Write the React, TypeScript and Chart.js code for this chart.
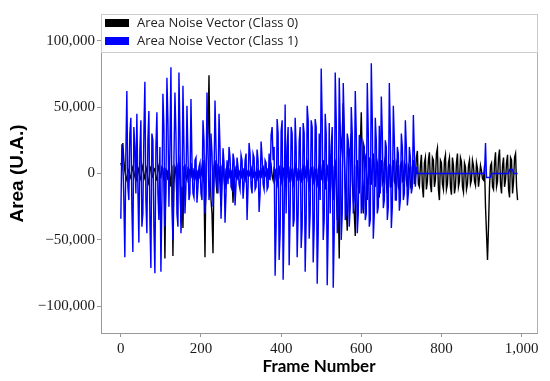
import React, { useEffect, useRef } from 'react';
import { Chart, registerables } from 'chart.js';

Chart.register(...registerables);

// Samples are stored every 5 frames, with a second set at the half-way frames (2.5, 7.5, ...)
const FRAME_STEP = 5;

// Area noise vector, class 0 (black), frames 0, 5, ..., 990
const CLASS0_VALUES = [
  8000, 23000, 2000, -5000, 3000, -2000, 5000, 0, -6000, 4000,
  -3000, 6000, -4000, 2000, -8000, 5000, -2000, 3000, -5000, 6000,
  -3000, 4000, -64000, 2000, 8000, -10000, -62000, 5000, -20000, 10000,
  -37000, -41000, 6000, -5000, 3000, 8000, -4000, 2000, -6000, 3000,
  -2000, 10000, -63000, 20000, 74000, -20000, -60000, 10000, -15000, 5000,
  -25000, 8000, -12000, 5000, -3000, 2000, -22000, 4000, -4000, 2000,
  -3000, 3000, -5000, 2000, -2000, 4000, -3000, 1000, -4000, 2000,
  -3000, 5000, -2000, 3000, -4000, 6000, -5000, 3000, -8000, 5000,
  -6000, 4000, -10000, 7000, -5000, 3000, -8000, 6000, -4000, 2000,
  -6000, 5000, -3000, 8000, -10000, 4000, -6000, 3000, -8000, 6000,
  -4000, 10000, -12000, 5000, -8000, 15000, -20000, 8000, -35000, -64000,
  20000, 53000, -10000, -43000, 15000, 30000, -20000, -47000, 10000, -15000,
  46000, -30000, 10000, -20000, 12000, -8000, 15000, -10000, 8000, -18000,
  10000, -6000, 12000, -15000, 6000, -10000, 10000, -8000, 5000, -12000,
  8000, -5000, 6000, -10000, 4000, -8000, 10000, -3000, 17000, -10000,
  14000, -18000, 12000, -6000, 16000, -14000, 10000, -5000, 19000, -20000,
  8000, -12000, 14000, -8000, 12000, -16000, 6000, -10000, 15000, -6000,
  9000, -14000, 5000, -8000, 10000, -5000, 6000, -9000, 4000, -3000,
  2000, -5000, -25000, -65000, -10000, 8000, -12000, 16000, -6000, 18000,
  -15000, 12000, -5000, 14000, -18000, 10000, -6000, 15000, -20000,
];

// Area noise vector, class 0, half-way frames 2.5, 7.5, ..., 987.5
const CLASS0_MID_VALUES = [
  5000, 10000, -3000, 2000, -4000, 3000, -3000, 4000, 2000, -5000,
  3000, -2000, 5000, -6000, 4000, -3000, 4000, -4000, 3000, -2000,
  5000, -6000, 3000, -5000, -3000, 6000, -8000, 3000, 6000, -5000,
  -10000, 5000, -3000, 4000, -2000, -3000, 3000, -4000, 2000, -3000,
  5000, -8000, 5000, 30000, 10000, -30000, 5000, -5000, 6000, -8000,
  5000, -4000, 3000, -2000, 3000, -4000, 2000, -3000, 3000, -2000,
  2000, -3000, 3000, -2000, 2000, -3000, 2000, -2000, 3000, -3000,
  4000, -3000, 2000, -4000, 3000, -2000, 4000, -5000, 4000, -3000,
  5000, -4000, 3000, -3000, 4000, -5000, 3000, -2000, 3000, -5000,
  3000, -4000, 5000, -5000, 3000, -3000, 4000, -5000, 3000, -3000,
  5000, -6000, 3000, -5000, 6000, -8000, 5000, -10000, -20000, 10000,
  30000, 15000, -25000, -10000, 20000, -5000, -30000, 5000, -10000, 20000,
  10000, -10000, 15000, -5000, -8000, 10000, -5000, 12000, -10000, 5000,
  -8000, 8000, -6000, 5000, -10000, 5000, -6000, 8000, -10000, 6000,
  -6000, 8000, -5000, 6000, -10000, 5000, -8000, 12000, -8000, 6000,
  -10000, 8000, -12000, 10000, -8000, 12000, -10000, 15000, -12000, 10000,
  -8000, 10000, -12000, 8000, -10000, 12000, -15000, 8000, -10000, 12000,
  -10000, 8000, -12000, 6000, -8000, 10000, -6000, 8000, -10000, 6000,
  -4000, 6000, -45000, -40000, 6000, -10000, 8000, -10000, 12000, -8000,
  6000, -10000, 8000, -12000, 12000, -15000, 12000, -10000,
];

// Area noise vector, class 1 (blue), frames 0, 5, ..., 990
const CLASS1_VALUES = [
  -34000, 10000, -63000, 62000, -20000, 42000, -59000, 20000, 45000, -52000,
  40000, -30000, 69000, -45000, 47000, -71000, 25000, -75000, 46000, -35000,
  -74000, 60000, -40000, 72000, -25000, 80000, -50000, 61000, -30000, 76000,
  -45000, 66000, -30000, 51000, -20000, 56000, -15000, 10000, -22000, 5000,
  -15000, 40000, -30000, 61000, -20000, 30000, -25000, 55000, -10000, 45000,
  -34000, 19000, -37000, 10000, 20000, -10000, 15000, -24000, 12000, -8000,
  14000, -19000, 10000, -35000, 23000, -10000, 15000, -12000, 18000, -29000,
  24000, -8000, 10000, -12000, 15000, 29000, 10000, -77000, 41000, -65000,
  32000, -80000, 52000, 20000, -69000, 35000, -40000, 42000, -63000, 24000,
  -56000, 38000, -74000, 51000, -49000, 40000, -67000, 41000, -83000, 30000,
  79000, -50000, 45000, -84000, 38000, 20000, -86000, 76000, -45000, 72000,
  -50000, 68000, -35000, 30000, -40000, 50000, -30000, 62000, -45000, 29000,
  -30000, 23000, -35000, 68000, -40000, 83000, -49000, 42000, -30000, 36000,
  58000, -26000, 25000, -35000, 68000, -41000, 51000, -20000, 20000, -28000,
  30000, -20000, 40000, -24000, 20000, -15000, 44000, -10000, 0, 0,
  0, 0, 0, 0, 0, 0, 0, 0, 0, 0,
  0, 0, 0, 0, 0, 0, 0, 0, 0, 0,
  0, 0, 0, 0, 0, 0, 0, 0, 0, 0,
  0, 0, 23000, -3000, -3000, 0, 0, 0, 0, 0,
  0, 0, 0, 0, 3000, 3000, 0, 0, 0,
];

// Area noise vector, class 1, half-way frames 2.5, 7.5, ..., 987.5
const CLASS1_MID_VALUES = [
  22000, -20000, 15000, -10000, 30000, -25000, 35000, -15000, -10000, 18000,
  -40000, 30000, -20000, 25000, -35000, 30000, -40000, 20000, -15000, 20000,
  -20000, 35000, -10000, 40000, 20000, -20000, 10000, 30000, -40000, 30000,
  -25000, 20000, -10000, 15000, -15000, 10000, -18000, 12000, -10000, 8000,
  -20000, 25000, -15000, 20000, -10000, 15000, -5000, 20000, -15000, 20000,
  -10000, 8000, -15000, -8000, 12000, -12000, 10000, -8000, 5000, -12000,
  10000, -8000, 15000, -10000, 15000, -15000, 12000, -10000, 10000, -15000,
  12000, -12000, 8000, -10000, -5000, 35000, 20000, -40000, 30000, -45000,
  40000, -35000, -30000, 35000, -30000, 30000, -35000, 20000, -30000, 35000,
  -40000, 30000, -35000, 40000, -30000, 35000, -40000, 35000, -45000, -20000,
  40000, -35000, 30000, -40000, -30000, 35000, -45000, 40000, -30000, 35000,
  -30000, 35000, -30000, 25000, -25000, 30000, -20000, 30000, -30000, 25000,
  -25000, 20000, -30000, 30000, -35000, 40000, -30000, 25000, -25000, -15000,
  30000, -20000, 20000, -25000, 30000, -25000, 25000, -20000, 15000, -20000,
  20000, -15000, 20000, -15000, 12000, -10000, 15000, 5000, 0, 0,
  0, 0, 0, 0, 0, 0, 0, 0, 0, 0,
  0, 0, 0, 0, 0, 0, 0, 0, 0, 0,
  0, 0, 0, 0, 0, 0, 0, 0, 0, 0,
  0, 0, -3000, -3000, -3000, 0, 0, 0, 0, 0,
  0, 0, 0, 0, 3000, 3000, 0, 0,
];

const SERIES_LABELS = ['Area Noise Vector (Class 0)', 'Area Noise Vector (Class 1)'];
const SERIES_COLORS = ['#000000', '#0000ff'];

const X_TICKS = [0, 200, 400, 600, 800, 1000];
const Y_TICKS = [-100000, -50000, 0, 50000, 100000];

const X_TITLE = 'Frame Number';
const Y_TITLE = 'Area (U.A.)';

// Merge the on-grid samples and the half-way samples into one ordered point list
function buildPoints(values: number[], mids: number[]) {
  const pts: { x: number; y: number }[] = [];
  values.forEach((v, i) => {
    pts.push({ x: i * FRAME_STEP, y: v });
    if (i < mids.length) pts.push({ x: i * FRAME_STEP + FRAME_STEP / 2, y: mids[i] });
  });
  return pts;
}

const fmt = (v: number) => Number(v).toLocaleString('en-US').replace('-', '\u2212');

const legendPlugin = {
  id: 'boxLegend',
  afterDatasetsDraw(chart: any) {
    const { ctx, chartArea } = chart;
    const { left, right, top, bottom } = chartArea;
    ctx.save();
    ctx.strokeStyle = '#b0b0b0';
    ctx.lineWidth = 1;
    ctx.beginPath();
    ctx.moveTo(right + 0.5, top);
    ctx.lineTo(right + 0.5, bottom);
    ctx.stroke();
    const h = 39;
    ctx.fillStyle = '#ffffff';
    ctx.fillRect(left, top, right - left + 1, h);
    ctx.strokeStyle = '#cccccc';
    ctx.strokeRect(left + 0.5, top + 0.5, right - left, h - 1);
    ctx.font = '13px "Open Sans"';
    ctx.textBaseline = 'middle';
    ctx.textAlign = 'left';
    chart.data.datasets.forEach((ds: any, i: number) => {
      const cy = top + 9 + i * 18;
      ctx.fillStyle = ds.borderColor;
      ctx.fillRect(left + 4, cy - 4, 24, 8);
      ctx.fillStyle = '#222222';
      ctx.fillText(ds.label, left + 36, cy);
    });
    ctx.restore();
  },
};

export default function App() {
  const ref = useRef<HTMLCanvasElement | null>(null);
  useEffect(() => {
    if (!ref.current) return;
    const tickFont = { family: '"Liberation Serif", serif', size: 15 };
    const chart = new Chart(ref.current, {
      type: 'line',
      data: {
        datasets: [
          {
            label: SERIES_LABELS[0],
            data: buildPoints(CLASS0_VALUES, CLASS0_MID_VALUES),
            borderColor: SERIES_COLORS[0],
            backgroundColor: SERIES_COLORS[0],
            borderWidth: 1.4,
            pointRadius: 0,
            tension: 0,
            order: 2,
          },
          {
            label: SERIES_LABELS[1],
            data: buildPoints(CLASS1_VALUES, CLASS1_MID_VALUES),
            borderColor: SERIES_COLORS[1],
            backgroundColor: SERIES_COLORS[1],
            borderWidth: 1.4,
            pointRadius: 0,
            tension: 0,
            order: 1,
          },
        ],
      },
      options: {
        animation: false,
        responsive: false,
        layout: { padding: { top: 14, right: 13, left: 0, bottom: 0 } },
        plugins: { legend: { display: false }, tooltip: { enabled: false } },
        scales: {
          x: {
            type: 'linear',
            min: -49.5,
            max: 1038.5,
            afterBuildTicks: (s: any) => { s.ticks = X_TICKS.map((value) => ({ value })); },
            afterFit: (s: any) => { s.height = 48; },
            grid: { drawOnChartArea: false, tickLength: 4, tickColor: '#999999' },
            border: { color: '#999999', width: 1 },
            ticks: { font: tickFont, color: '#1a1a1a', padding: 3, maxRotation: 0, callback: (v: any) => fmt(v) },
            title: {
              display: true,
              text: X_TITLE,
              font: { family: 'Lato, sans-serif', size: 17, weight: 'bold', lineHeight: 1.2 },
              color: '#000000',
              padding: { top: 4, bottom: 4 },
            },
          },
          y: {
            type: 'linear',
            min: -120000,
            max: 120000,
            afterBuildTicks: (s: any) => { s.ticks = Y_TICKS.map((value) => ({ value })); },
            afterFit: (s: any) => { s.width = 101; },
            grid: { drawOnChartArea: false, tickLength: 4, tickColor: '#999999' },
            border: { color: '#999999', width: 1 },
            ticks: { font: tickFont, color: '#1a1a1a', padding: 2, callback: (v: any) => fmt(v) },
            title: {
              display: true,
              text: Y_TITLE,
              font: { family: '"Liberation Sans", Arial, sans-serif', size: 19, weight: 'bold', lineHeight: 1.2 },
              color: '#000000',
              padding: { top: 6, bottom: 4 },
            },
          },
        },
      },
      plugins: [legendPlugin],
    });
    return () => chart.destroy();
  }, []);
  return (
    <div style={{ position: 'fixed', left: 0, top: 0, width: 550, height: 381, background: '#fff' }}>
      <canvas ref={ref} width={550} height={381} style={{ display: 'block' }} />
    </div>
  );
}
